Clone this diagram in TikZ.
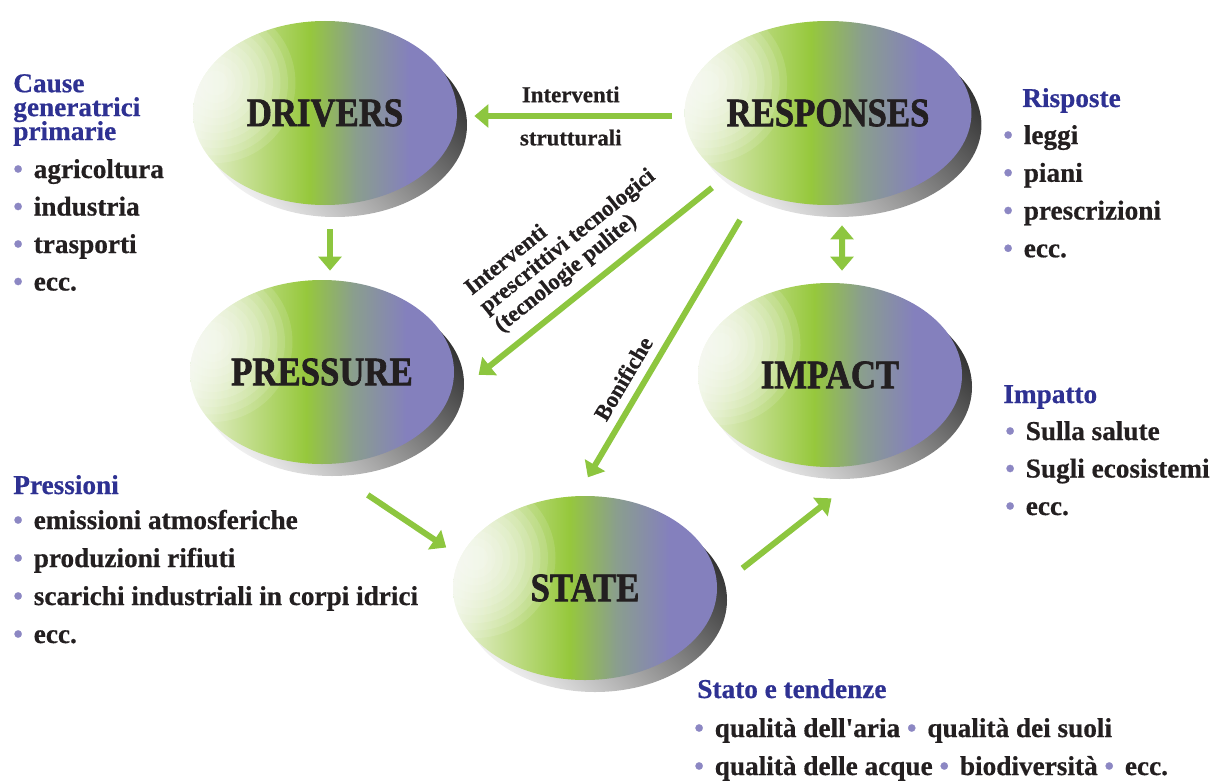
\documentclass[tikz,border=0pt]{standalone}
\usepackage{fontspec}
\setmainfont[BoldFeatures={FakeBold=0.6}]{Liberation Serif}
\newfontfamily\capfont[FakeStretch=0.86, FakeBold=1.6]{Liberation Serif Bold}
\usetikzlibrary{arrows.meta,shapes.geometric,shadows}

\definecolor{leafgreen}{RGB}{150,200,60}
\definecolor{arrowgreen}{RGB}{141,198,63}
\definecolor{lilac}{RGB}{132,128,189}
\definecolor{slategreen}{RGB}{138,158,142}
\definecolor{mintlight}{RGB}{205,227,160}
\definecolor{paleglow}{RGB}{236,244,222}
\definecolor{titleblue}{RGB}{46,49,146}
\definecolor{dotlilac}{RGB}{140,135,195}
\definecolor{inkblack}{RGB}{35,31,32}

% green-to-lilac body of the five stages
\pgfdeclarehorizontalshading{stagefill}{100bp}{color(0bp)=(paleglow); color(25bp)=(paleglow);
  color(33bp)=(mintlight); color(47bp)=(leafgreen); color(56bp)=(slategreen);
  color(66bp)=(lilac); color(100bp)=(lilac)}

\newcommand{\bul}{\textcolor{dotlilac}{•}\hspace{0.4em}}

\begin{document}
\begin{tikzpicture}[
      stage/.style={ellipse, minimum width=5.28cm, minimum height=3.68cm, inner sep=0pt,
        shade, shading=stagefill, text=inkblack,
        font=\capfont\fontsize{23}{23}\selectfont,
        general shadow={shadow xshift=0.2cm, shadow yshift=-0.24cm,
          top color=black!6, bottom color=black!80, shading angle=135},
        path picture={
          % soft highlight on the left side
          \foreach \r in {1.6,1.45,...,0.1}
            \fill[white, fill opacity=0.12]
              ([xshift=0.45cm, yshift=0.6cm]path picture bounding box.west) circle (\r cm);
        }},
      flow/.style={-{Triangle[length=8pt, width=13pt]}, line width=3.4pt, draw=arrowgreen},
      note/.style={font=\bfseries\fontsize{13}{13.5}\selectfont, inner sep=2pt, text=inkblack,
        execute at begin node={\lineskiplimit=-20pt}},
      item/.style={anchor=base west, inner sep=0pt, text=inkblack,
        font=\bfseries\fontsize{15.5}{18}\selectfont},
      head/.style={item, text=titleblue, align=left,
        font=\bfseries\fontsize{15.5}{13.6}\selectfont,
        execute at begin node={\lineskiplimit=-20pt}}
    ]
    \useasboundingbox (0,0) rectangle (24.34,-15.62);

    % DPSIR stages
    \node[stage] (drivers) at (6.50,-2.26) {DRIVERS};
    \node[stage] (responses) at (16.56,-2.26) {RESPONSES};
    \node[stage] (pressure) at (6.44,-7.44) {PRESSURE};
    \node[stage] (impact) at (16.60,-7.50) {IMPACT};
    \node[stage] (state) at (11.70,-11.76) {STATE};

    % Links between stages
    \draw[flow, shorten <=0.24cm, shorten >=0.34cm] ([yshift=-0.06cm]responses.west) --
      node[note, above=4pt] {Interventi} node[note, below=4pt] {strutturali}
      ([yshift=-0.06cm]drivers.east);
    \draw[flow, shorten <=0.48cm, shorten >=0.18cm] ([xshift=0.1cm]drivers.south) --
      ([xshift=0.16cm]pressure.north);
    \draw[flow, {Triangle[length=8pt, width=13pt]}-{Triangle[length=8pt, width=13pt]},
      shorten <=0.4cm, shorten >=0.24cm] ([xshift=0.28cm]responses.south) --
      ([xshift=0.24cm]impact.north);
    \draw[flow, shorten <=1.1cm, shorten >=0.34cm] (pressure.south) -- (state.166);
    \draw[flow, shorten <=0.64cm, shorten >=1.22cm] (state.east) -- (impact.-60);
    \draw[flow, shorten <=0.33cm, shorten >=0.77cm] (responses.212) --
      node[note, sloped, above=4pt, pos=0.46, align=left]
      {Interventi\\prescrittivi tecnologici\\(tecnologie pulite)} (pressure.-12);
    \draw[flow, shorten <=0.63cm, shorten >=0.43cm] (responses.228) --
      node[note, sloped, above=3pt, pos=0.646] {Bonifiche} (state.95);

    % Drivers
    \node[head] (causehead) at (0.26,-2.80) {Cause\\generatrici\\primarie};
    \foreach \txt [count=\i] in {agricoltura,industria,trasporti,ecc.}
      \node[item] (cause\i) at (0.26,{-3.56-0.75*(\i-1)}) {\bul\txt};

    % Pressures
    \node[head] (presshead) at (0.26,-9.88) {Pressioni};
    \foreach \txt [count=\i] in {emissioni atmosferiche,produzioni rifiuti,
        scarichi industriali in corpi idrici,ecc.}
      \node[item] (press\i) at (0.26,{-10.58-0.76*(\i-1)}) {\bul\txt};

    % Responses
    \node[head] (resphead) at (20.44,-2.14) {Risposte};
    \foreach \txt [count=\i] in {leggi,piani,prescrizioni,ecc.}
      \node[item] (resp\i) at (20.06,{-2.88-0.755*(\i-1)}) {\bul\txt};

    % Impact
    \node[head] (imphead) at (20.06,-8.06) {Impatto};
    \foreach \txt [count=\i] in {Sulla salute,Sugli ecosistemi,ecc.}
      \node[item] (imp\i) at (20.10,{-8.80-0.75*(\i-1)}) {\bul\txt};

    % State and trends
    \node[head] (statehead) at (13.94,-13.96) {Stato e tendenze};
    \node[item] (state1) at (13.88,-14.74)
      {\bul qualità dell\textquotesingle aria \bul qualità dei suoli};
    \node[item] (state2) at (13.88,-15.50)
      {\bul qualità delle acque \bul biodiversità \bul ecc.};
  \end{tikzpicture}
\end{document}
